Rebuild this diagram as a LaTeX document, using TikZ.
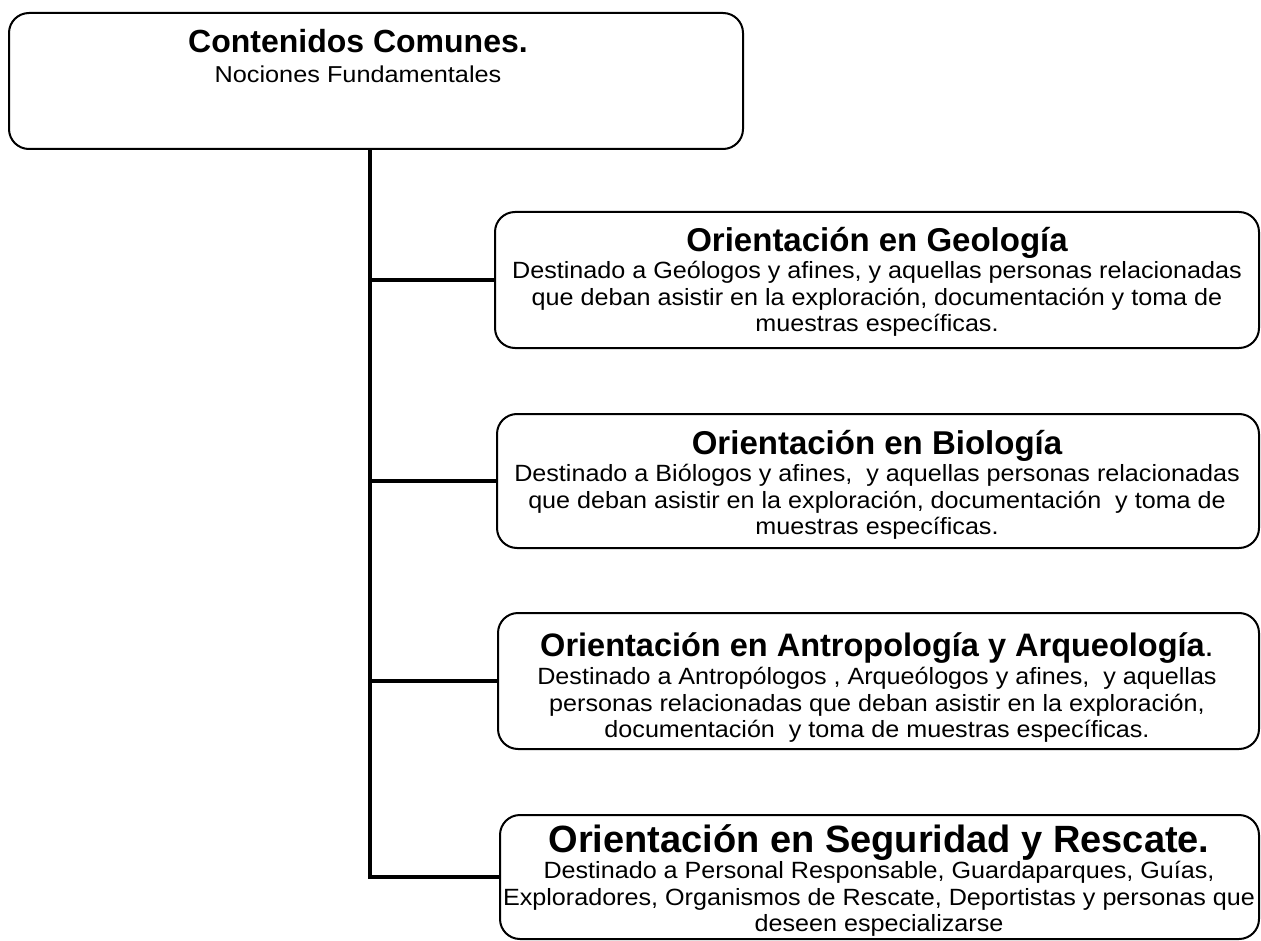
\documentclass[tikz,border=0pt]{standalone}
\usepackage{fontspec}
\setmainfont{Liberation Sans}
\newfontfamily\bodyfont[FakeStretch=1.07]{Liberation Sans}
\newfontfamily\subfont[FakeStretch=1.1]{Liberation Sans}
\begin{document}
\begin{tikzpicture}[x=1pt,y=-1pt,
  box/.style={draw=black, line width=2pt, rounded corners=20pt, inner sep=0pt},
  ttl/.style={inner sep=0pt, font=\bfseries\fontsize{33}{33}\selectfont},
  body/.style={inner sep=0pt, align=center, font=\bodyfont\fontsize{23.5}{26.5}\selectfont},
  link/.style={line width=4.5pt, line cap=rect}]
\useasboundingbox (0,0) rectangle (1261,941);
% boxes
\node[box, minimum width=734pt, minimum height=136pt] (top) at (376,81) {};
\node[box, minimum width=764pt, minimum height=136pt] (geo) at (877,280) {};
\node[box, minimum width=762pt, minimum height=134pt] (bio) at (878,481) {};
\node[box, minimum width=761pt, minimum height=136pt] (ant) at (878.5,681) {};
\node[box, minimum width=759pt, minimum height=124pt] (seg) at (879.5,877) {};
% texts
\node[ttl, font=\bfseries\fontsize{32}{32}\selectfont] (topt) at (358,41) {Contenidos Comunes.};
\node[inner sep=0pt, font=\subfont\fontsize{23}{23}\selectfont] (tops) at (358,74) {Nociones Fundamentales};

\node[ttl] (geot) at (877,243) {Orientación en Geología};
\node[body, anchor=north] (geob) at (877,261) {Destinado a Geólogos y afines, y aquellas personas relacionadas\\que deban asistir en la exploración, documentación y toma de\\muestras específicas.};

\node[ttl] (biot) at (877,446) {Orientación en Biología};
\node[body, anchor=north] (biob) at (877,464) {Destinado a Biólogos y afines,\ \ y aquellas personas relacionadas\\que deban asistir en la exploración, documentación\ \ y toma de\\muestras específicas.};

\node[ttl, font=\bfseries\fontsize{32.5}{32.5}\selectfont] (antt) at (877,648) {Orientación en Antropología y Arqueología{\mdseries.}};
\node[body, anchor=north] (antb) at (877,667) {Destinado a Antropólogos , Arqueólogos y afines,\ \ y aquellas\\personas relacionadas que deban asistir en la exploración,\\documentación\ \ y toma de muestras específicas.};

\node[ttl, font=\bfseries\fontsize{38}{38}\selectfont] (segt) at (879,843) {Orientación en Seguridad y Rescate.};
\node[body, anchor=north] (segb) at (879,861) {Destinado a Personal Responsable, Guardaparques, Guías,\\Exploradores, Organismos de Rescate, Deportistas y personas que\\deseen especializarse};

% connectors
\coordinate (trunk) at (370,0);
\draw[link] (top.south -| trunk) |- (seg.west);
\draw[link] (geo.west -| trunk) -- (geo.west);
\draw[link] (bio.west -| trunk) -- (bio.west);
\draw[link] (ant.west -| trunk) -- (ant.west);
\end{tikzpicture}
\end{document}
